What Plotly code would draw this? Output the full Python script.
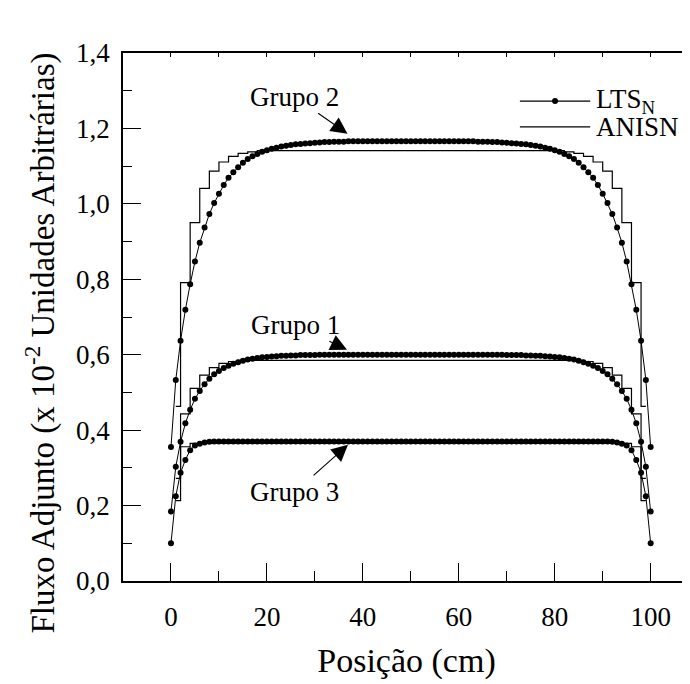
import plotly.graph_objects as go

# ---------------- data ----------------
pos = list(range(0, 101))

lts_g2 = [0.355, 0.533, 0.637, 0.719, 0.787, 0.847, 0.897, 0.937, 0.973, 1.002,
          1.027, 1.050, 1.069, 1.084, 1.097, 1.109, 1.119, 1.126, 1.132, 1.138,
          1.142, 1.146, 1.149, 1.152, 1.154, 1.156, 1.158, 1.159, 1.160, 1.161,
          1.162, 1.163, 1.164, 1.164, 1.165, 1.165, 1.165, 1.166, 1.166, 1.166,
          1.166, 1.166, 1.166, 1.166, 1.166, 1.166, 1.166, 1.166, 1.166, 1.166,
          1.166,
          1.166, 1.166, 1.166, 1.166, 1.166, 1.166, 1.166, 1.166, 1.166, 1.166,
          1.166, 1.166, 1.166, 1.165, 1.165, 1.165, 1.164, 1.164, 1.163, 1.162,
          1.161, 1.160, 1.159, 1.158, 1.156, 1.154, 1.152, 1.149, 1.146, 1.142,
          1.138, 1.132, 1.126, 1.119, 1.109, 1.097, 1.084, 1.069, 1.050, 1.027,
          1.002, 0.973, 0.937, 0.897, 0.847, 0.787, 0.719, 0.637, 0.533, 0.355]

lts_g1 = [0.184, 0.303, 0.369, 0.418, 0.454, 0.483, 0.504, 0.522, 0.536, 0.548,
          0.557, 0.565, 0.571, 0.576, 0.580, 0.584, 0.587, 0.589, 0.591, 0.593,
          0.594, 0.595, 0.596, 0.597, 0.597, 0.598, 0.598, 0.599, 0.599, 0.599,
          0.599, 0.600, 0.600, 0.600, 0.600, 0.600, 0.600, 0.600, 0.600, 0.600,
          0.600, 0.600, 0.600, 0.600, 0.600, 0.600, 0.600, 0.600, 0.600, 0.600,
          0.600,
          0.600, 0.600, 0.600, 0.600, 0.600, 0.600, 0.600, 0.600, 0.600, 0.600,
          0.600, 0.600, 0.600, 0.600, 0.600, 0.600, 0.600, 0.600, 0.600, 0.599,
          0.599, 0.599, 0.599, 0.598, 0.598, 0.597, 0.597, 0.596, 0.595, 0.594,
          0.593, 0.591, 0.589, 0.587, 0.584, 0.580, 0.576, 0.571, 0.565, 0.557,
          0.548, 0.536, 0.522, 0.504, 0.483, 0.454, 0.418, 0.369, 0.303, 0.184]

lts_g3 = [0.100, 0.225, 0.287, 0.321, 0.347, 0.359, 0.364, 0.367, 0.369, 0.370,
          0.370, 0.370, 0.370, 0.370, 0.370, 0.370, 0.370, 0.370, 0.370, 0.370,
          0.370, 0.370, 0.370, 0.370, 0.370, 0.370, 0.370, 0.370, 0.370, 0.370,
          0.370, 0.370, 0.370, 0.370, 0.370, 0.370, 0.370, 0.370, 0.370, 0.370,
          0.370, 0.370, 0.370, 0.370, 0.370, 0.370, 0.370, 0.370, 0.370, 0.370,
          0.370,
          0.370, 0.370, 0.370, 0.370, 0.370, 0.370, 0.370, 0.370, 0.370, 0.370,
          0.370, 0.370, 0.370, 0.370, 0.370, 0.370, 0.370, 0.370, 0.370, 0.370,
          0.370, 0.370, 0.370, 0.370, 0.370, 0.370, 0.370, 0.370, 0.370, 0.370,
          0.370, 0.370, 0.370, 0.370, 0.370, 0.370, 0.370, 0.370, 0.370, 0.370,
          0.370, 0.369, 0.367, 0.364, 0.359, 0.347, 0.321, 0.287, 0.225, 0.100]

# ANISN: cell edges and cell values (step function)
anisn_edges = [1, 2, 4, 6, 8, 10, 12, 14, 16, 18, 20, 80, 82, 84, 86, 88, 90, 92, 94, 96, 98, 99]
anisn_g2 = [0.463, 0.791, 0.950, 1.041, 1.087, 1.111, 1.126, 1.134, 1.138, 1.141,
            1.143,
            1.141, 1.138, 1.134, 1.126, 1.111, 1.087, 1.041, 0.950, 0.791, 0.463]
anisn_g1 = [0.272, 0.443, 0.511, 0.546, 0.566, 0.577, 0.582, 0.585, 0.586, 0.587,
            0.587,
            0.587, 0.586, 0.585, 0.582, 0.577, 0.566, 0.546, 0.511, 0.443, 0.272]
anisn_g3 = [0.213, 0.356, 0.365, 0.366, 0.366, 0.366, 0.366, 0.366, 0.366, 0.366,
            0.366,
            0.366, 0.366, 0.366, 0.366, 0.366, 0.366, 0.366, 0.365, 0.356, 0.213]

group_labels = ["Grupo 2", "Grupo 1", "Grupo 3"]
label_tip_x = [36.8, 36.7, 36.9]
label_tip_y = [1.186, 0.613, 0.361]

legend_names = ["LTS<sub>N</sub>", "ANISN"]

x_ticks = [0, 20, 40, 60, 80, 100]
y_ticks = [0.0, 0.2, 0.4, 0.6, 0.8, 1.0, 1.2, 1.4]
y_ticklabels = ["0,0", "0,2", "0,4", "0,6", "0,8", "1,0", "1,2", "1,4"]

FONT = "Liberation Serif"
X_RANGE = [-10, 108.2]


def steps(edges, vals):
    xs, ys = [], []
    for i, v in enumerate(vals):
        xs += [edges[i], edges[i + 1]]
        ys += [v, v]
    return xs, ys


fig = go.Figure()

for g in (anisn_g2, anisn_g1, anisn_g3):
    sx, sy = steps(anisn_edges, g)
    fig.add_trace(go.Scatter(x=sx, y=sy, mode="lines", name="ANISN",
                             line=dict(color="black", width=1.2), showlegend=False))

for g in (lts_g2, lts_g1, lts_g3):
    fig.add_trace(go.Scatter(x=pos, y=g, mode="lines+markers", name="LTS<sub>N</sub>",
                             line=dict(color="black", width=1),
                             marker=dict(color="black", size=6), showlegend=False))

# empty trace so that the top (mirror) axis with its small ticks is drawn
fig.add_trace(go.Scatter(x=[None], y=[None], xaxis="x2", mode="lines",
                         showlegend=False, hoverinfo="skip"))

offsets = [(-53, -37), (-52, -25), (-53, 47)]
for lab, tx, ty, (axo, ayo) in zip(group_labels, label_tip_x, label_tip_y, offsets):
    fig.add_annotation(x=tx, y=ty, text=lab, showarrow=True, ax=axo, ay=ayo,
                       arrowhead=2, arrowsize=3, arrowwidth=1.1, arrowcolor="black",
                       font=dict(family=FONT, size=27, color="black"))

# manual legend (long sample lines as in the reference)
leg_y = [0.909, 0.860]
for name, ly, with_dot in zip(legend_names, leg_y, [True, False]):
    fig.add_shape(type="line", xref="paper", yref="paper", x0=0.700, x1=0.824, y0=ly, y1=ly,
                  line=dict(color="black", width=1.2))
    if with_dot:
        fig.add_shape(type="circle", xref="paper", yref="paper",
                      x0=0.762 - 0.0053, x1=0.762 + 0.0053, y0=ly - 0.0057, y1=ly + 0.0057,
                      fillcolor="black", line=dict(color="black", width=0))
    fig.add_annotation(xref="paper", yref="paper", x=0.830, y=ly, text=name, showarrow=False,
                       xanchor="left", yanchor="middle",
                       font=dict(family=FONT, size=27, color="black"))

# y-axis title as annotation
fig.add_annotation(xref="paper", yref="paper", x=-0.146, y=0.45, textangle=-90,
                   text="Fluxo Adjunto (x 10<sup>-2</sup> Unidades Arbitrárias)",
                   showarrow=False, xanchor="center", yanchor="middle",
                   font=dict(family=FONT, size=33, color="black"))

# page body has an 8px default margin: figure is 8px smaller and margins shifted
fig.update_layout(
    width=682, height=676,
    margin=dict(l=115, r=0, t=45, b=103, autoexpand=False),
    paper_bgcolor="white", plot_bgcolor="white",
    font=dict(family=FONT, size=27, color="black"),
    showlegend=False,
    xaxis=dict(
        range=X_RANGE, showgrid=False, zeroline=False, automargin=False,
        showline=True, linecolor="black", linewidth=1.5, mirror=True,
        tickmode="array", tickvals=x_ticks, ticktext=[str(v) for v in x_ticks],
        ticks="inside", ticklen=18, tickwidth=1, tickcolor="black",
        minor=dict(dtick=10, tick0=0, ticks="inside", ticklen=10, tickwidth=1, tickcolor="black"),
        tickfont=dict(family=FONT, size=27), ticklabelstandoff=11,
        title=dict(text="Posição (cm)", font=dict(family=FONT, size=34), standoff=17),
    ),
    xaxis2=dict(overlaying="x", side="top", anchor="y", range=X_RANGE,
                showgrid=False, zeroline=False, showline=False, showticklabels=False,
                ticks="inside", ticklen=4, tickwidth=1, tickcolor="black",
                tickmode="linear", tick0=0, dtick=10, automargin=False),
    yaxis=dict(
        range=[0, 1.4], showgrid=False, zeroline=False, automargin=False,
        showline=True, linecolor="black", linewidth=1.5, mirror=True,
        tickmode="array", tickvals=y_ticks, ticktext=y_ticklabels,
        ticks="inside", ticklen=18, tickwidth=1, tickcolor="black",
        minor=dict(dtick=0.1, tick0=0, ticks="inside", ticklen=9, tickwidth=1, tickcolor="black"),
        tickfont=dict(family=FONT, size=27), ticklabelstandoff=6,
    ),
)

fig.write_html("out.html")
